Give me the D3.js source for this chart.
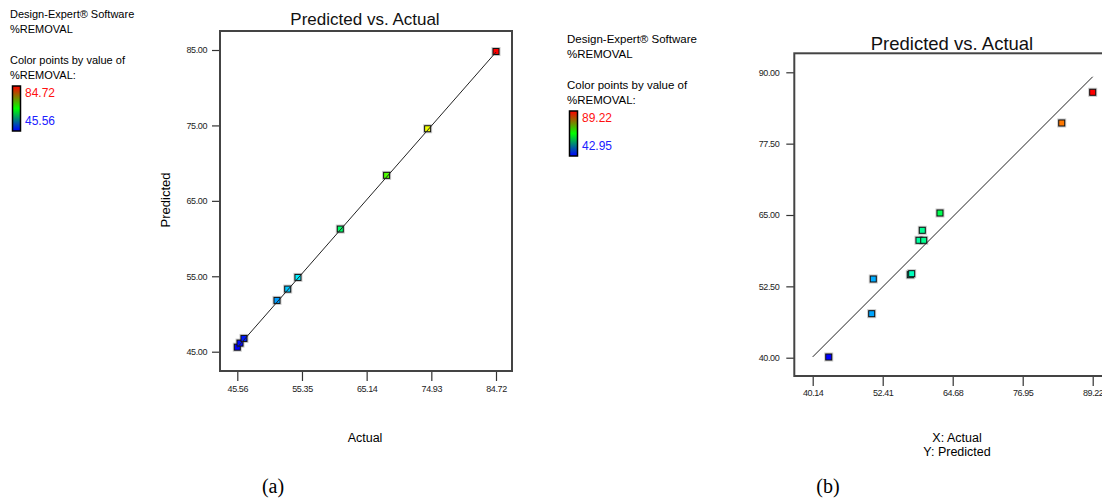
<!DOCTYPE html>
<html><head><meta charset="utf-8">
<script src="https://cdn.jsdelivr.net/npm/d3@7"></script>
<style>
body{margin:0;background:#fff;}
svg{display:block;}
.narrow{font-family:"Liberation Sans Narrow","Arial Narrow","Liberation Sans",Arial,sans-serif;}
.sans{font-family:"Liberation Sans",Arial,sans-serif;}
</style></head>
<body>
<svg id="c" width="1102" height="499"></svg>
<script>
// ---- data (a) ----
const actualA = [84.72, 74.37, 68.16, 61.15, 54.74, 53.19, 51.57, 46.57, 45.97, 45.56];
const predictedA = [84.80, 74.56, 68.38, 61.26, 54.85, 53.30, 51.80, 46.76, 46.14, 45.60];
const xTicksA = [45.56, 55.35, 65.14, 74.93, 84.72];
const yTicksA = [45, 55, 65, 75, 85];
const rangeA = [45.56, 84.72];
// ---- data (b) ----
const actualB = [89.22, 83.79, 62.45, 59.35, 58.77, 59.60, 57.25, 57.49, 50.76, 50.48, 42.95];
const predictedB = [86.50, 81.12, 65.35, 62.32, 60.57, 60.57, 54.54, 54.72, 53.79, 47.71, 40.12];
const xTicksB = [40.14, 52.41, 64.68, 76.95, 89.22];
const yTicksB = [40, 52.5, 65, 77.5, 90];
const rangeB = [42.95, 89.22];
const lineB = [40.14, 89.22];

const svg = d3.select("#c");
const defs = svg.append("defs");
const grad = defs.append("linearGradient").attr("id","lg").attr("x1",0).attr("y1",0).attr("x2",0).attr("y2",1);
grad.append("stop").attr("offset","0%").attr("stop-color","#ff0000");
grad.append("stop").attr("offset","50%").attr("stop-color","#00ff00");
grad.append("stop").attr("offset","100%").attr("stop-color","#0000ff");

function rainbow(range){
  const t = d3.scaleLinear().domain(range).range([0,1]).clamp(true);
  const c = d3.scaleLinear().domain([0,0.25,0.5,0.75,1])
    .range(["#0000ff","#00ffff","#00ff00","#ffff00","#ff0000"]);
  return v => c(t(v));
}

function legend(x, y, range, fs){
  const g = svg.append("g").attr("class","sans").attr("font-size",fs).attr("fill","#000");
  const lines = [["Design-Expert® Software",0],["%REMOVAL",15],["Color points by value of",45.5],["%REMOVAL:",61]];
  lines.forEach(([t,dy])=>g.append("text").attr("x",x).attr("y",y+dy).text(t));
  g.append("rect").attr("x",x+2.5).attr("y",y+68).attr("width",8).attr("height",45)
    .attr("fill","url(#lg)").attr("stroke","#000").attr("stroke-width",1.5);
  g.append("text").attr("x",x+15).attr("y",y+79).attr("font-size",12).attr("fill","#ff1010").text(range[1].toFixed(2));
  g.append("text").attr("x",x+15).attr("y",y+107).attr("font-size",12).attr("fill","#2020ff").text(range[0].toFixed(2));
}

function panel(o){
  const x = d3.scaleLinear().domain(o.xd).range(o.xr);
  const y = d3.scaleLinear().domain(o.yd).range(o.yr);
  const g = svg.append("g");
  const ax = g.append("g").attr("transform",`translate(0,${o.box[3]})`)
    .call(d3.axisBottom(x).tickValues(o.xt).tickFormat(d3.format(".2f")).tickSize(10).tickPadding(o.xpad).tickSizeOuter(0));
  const ay = g.append("g").attr("transform",`translate(${o.box[0]},0)`)
    .call(d3.axisLeft(y).tickValues(o.yt).tickFormat(d3.format(".2f")).tickSize(8).tickPadding(o.ypad).tickSizeOuter(0));
  [ax,ay].forEach(a=>{
    a.select(".domain").remove();
    a.selectAll("line").attr("stroke","#333").attr("stroke-width",1.2);
    a.selectAll("text").attr("class","narrow").attr("font-size",9).attr("fill","#222").attr("letter-spacing","-0.4");
  });
  g.append("rect").attr("x",o.box[0]).attr("y",o.box[1]).attr("width",o.box[2]-o.box[0]).attr("height",o.box[3]-o.box[1])
    .attr("fill","none").attr("stroke","#444").attr("stroke-width",2);
  const col = rainbow(o.range);
  const pts = o.act.map((a,i)=>({a, p:o.pred[i]})).sort((p,q)=>p.a-q.a);
  const m = g.append("g");
  m.selectAll(".sh").data(pts).join("rect").attr("x",d=>x(d.a)-4.5).attr("y",d=>y(d.p)-4.5)
    .attr("width",9).attr("height",9).attr("fill","#9a9a9a").attr("opacity",0.55);
  m.selectAll(".pt").data(pts).join("rect").attr("x",d=>x(d.a)-3).attr("y",d=>y(d.p)-3)
    .attr("width",6).attr("height",6).attr("fill",d=>col(d.a)).attr("stroke","#111").attr("stroke-width",1);
  g.append("line").attr("x1",x(o.line[0])).attr("y1",y(o.line[0])).attr("x2",x(o.line[1])).attr("y2",y(o.line[1]))
    .attr("stroke","#222").attr("stroke-width",1);
  g.append("text").attr("class","narrow").attr("x",o.title[0]).attr("y",o.title[1]).attr("text-anchor","middle")
    .attr("font-size",o.tfs).attr("fill","#111").text("Predicted vs. Actual");
  return {x,y};
}

// (a)
legend(10, 18, rangeA, 11);
panel({xd:rangeA, xr:[237.3,496], yd:[45,85], yr:[351.7,50], box:[220,31,512,371],
  xt:xTicksA, yt:yTicksA, xpad:5, ypad:5, act:actualA, pred:predictedA, range:rangeA,
  line:rangeA, title:[365,25], tfs:17});
svg.append("text").attr("class","sans").attr("font-size",13).attr("text-anchor","middle")
  .attr("transform","translate(170,200) rotate(-90)").text("Predicted");
svg.append("text").attr("class","sans").attr("font-size",12.5).attr("text-anchor","middle")
  .attr("x",365).attr("y",442).text("Actual");
svg.append("text").attr("font-family","Liberation Serif, Times New Roman, serif").attr("font-size",20)
  .attr("text-anchor","middle").attr("x",273).attr("y",493).text("(a)");

// (b)
legend(567, 43, rangeB, 11.5);
panel({xd:[40.14,89.22], xr:[812.7,1092.7], yd:[40,90], yr:[357.7,72.3], box:[794.3,53.3,1110,376],
  xt:xTicksB, yt:yTicksB, xpad:4, ypad:7, act:actualB, pred:predictedB, range:rangeB,
  line:lineB, title:[952,50], tfs:18.5});
svg.append("text").attr("class","sans").attr("font-size",12.5).attr("text-anchor","middle")
  .attr("x",957).attr("y",442).text("X: Actual");
svg.append("text").attr("class","sans").attr("font-size",12.5).attr("text-anchor","middle")
  .attr("x",957).attr("y",456).text("Y: Predicted");
svg.append("text").attr("font-family","Liberation Serif, Times New Roman, serif").attr("font-size",20)
  .attr("text-anchor","middle").attr("x",828).attr("y",493).text("(b)");
</script>
</body></html>
